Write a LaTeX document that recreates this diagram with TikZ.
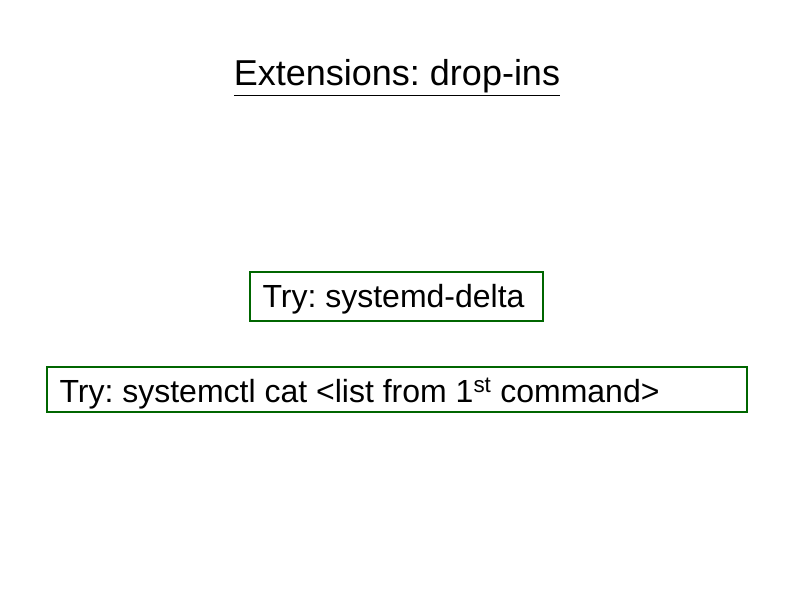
\documentclass[tikz,border=0pt]{standalone}
\usepackage{fontspec}
\setmainfont{Liberation Sans}
\frenchspacing
\begin{document}
\begin{tikzpicture}[x=1pt,y=1pt,
  box/.style={draw=green!40!black,line width=1.2pt,inner sep=0pt}]
\useasboundingbox (0,0) rectangle (794,595);
\node[anchor=base] (title) at (397,509) {\fontsize{36}{42}\selectfont\underline{Extensions: drop-ins}};
\draw[box] (250,274) rectangle (543,323);
\node[anchor=base west] (t1) at (259,288) {\fontsize{32}{38}\selectfont Try: systemd-delta};
\draw[box] (47,183) rectangle (747,228);
\node[anchor=base west] (t2) at (56,193) {\fontsize{32}{38}\selectfont Try: systemctl cat <list from 1\textsuperscript{st} command>};
\end{tikzpicture}
\end{document}
